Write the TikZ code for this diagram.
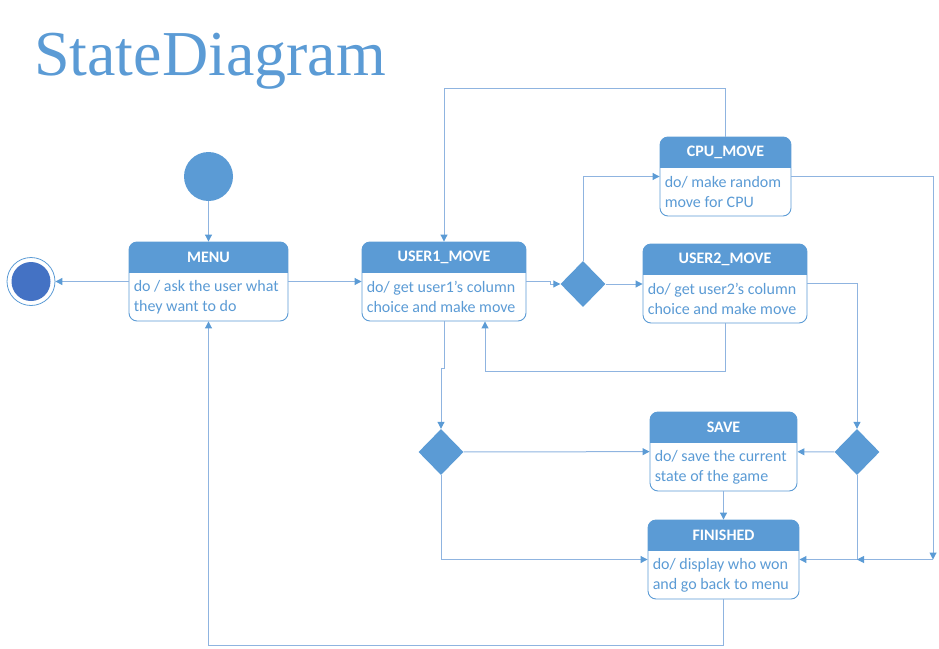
\documentclass[tikz,border=0pt]{standalone}
\usepackage{fontspec}
\setmainfont{Carlito}
\newfontfamily\titlefont{Liberation Serif}
\usetikzlibrary{shapes.geometric, arrows.meta}
\definecolor{headblue}{HTML}{5B9BD5}
\definecolor{lineblue}{HTML}{8FB4E0}
\definecolor{endblue}{HTML}{4472C4}
\newcommand{\statefont}{\fontsize{16pt}{20pt}\selectfont}
\tikzset{
	state/.style={shape=rectangle,draw=headblue,line width=0.9pt,fill=white,rounded corners=8pt,minimum height=79pt,inner sep=0pt,
		path picture={\fill[headblue,sharp corners] (path picture bounding box.north west) rectangle ([yshift=-31pt]path picture bounding box.north east);}},
	head/.style={text=white,font=\statefont\bfseries,inner sep=0pt},
	body/.style={text=headblue,font=\statefont,align=left,inner sep=5pt,anchor=west},
	choice/.style={shape=diamond,fill=headblue,minimum width=45pt,minimum height=46pt,inner sep=0pt},
	startdot/.style={shape=circle,fill=headblue,minimum size=49pt,inner sep=0pt},
	enddot/.style={shape=circle,draw=headblue,line width=0.8pt,fill=white,minimum size=48pt,inner sep=0pt},
	endcore/.style={shape=circle,fill=endblue,minimum size=39pt,inner sep=0pt},
}
\tikzstyle{arrow} = [draw=lineblue,line width=1pt,-{Triangle[length=7pt,width=7pt,color=headblue]}]

\begin{document}
\begin{tikzpicture}[x=1pt,y=-1pt]
	\useasboundingbox (0,0) rectangle (939,648);
	\node[anchor=base west,inner sep=0pt,text=headblue,font=\titlefont\fontsize{64pt}{70pt}\selectfont] (title) at (34,75) {StateDiagram};

	\node[startdot] (start) at (208.5,176.5) {};
	\node[enddot] (end) at (31,281.5) {};
	\node[endcore] (endin) at (31,281.5) {};

	\node[state,minimum width=159pt] (menu) at (208.5,281.5) {};
	\node[head] (menu-head) at ([yshift=-15.5pt]menu.north) {MENU};
	\node[body] (menu-body) at ([yshift=-15.5pt]menu.west) {do / ask the user what\\they want to do};

	\node[state,minimum width=164pt] (user1) at (444,281.5) {};
	\node[head] (user1-head) at ([yshift=-15.5pt]user1.north) {USER1\_MOVE};
	\node[body] (user1-body) at ([yshift=-15.5pt]user1.west) {do/ get user1's column\\choice and make move};

	\node[state,minimum width=131pt] (cpu) at (725.5,176.5) {};
	\node[head] (cpu-head) at ([yshift=-15.5pt]cpu.north) {CPU\_MOVE};
	\node[body] (cpu-body) at ([yshift=-15.5pt]cpu.west) {do/ make random\\move for CPU};

	\node[state,minimum width=164pt] (user2) at (725,283.5) {};
	\node[head] (user2-head) at ([yshift=-15.5pt]user2.north) {USER2\_MOVE};
	\node[body] (user2-body) at ([yshift=-15.5pt]user2.west) {do/ get user2's column\\choice and make move};

	\node[state,minimum width=147pt] (save) at (723.5,451.5) {};
	\node[head] (save-head) at ([yshift=-15.5pt]save.north) {SAVE};
	\node[body] (save-body) at ([yshift=-15.5pt]save.west) {do/ save the current\\state of the game};

	\node[state,minimum width=151pt] (finished) at (723.5,559.5) {};
	\node[head] (finished-head) at ([yshift=-15.5pt]finished.north) {FINISHED};
	\node[body] (finished-body) at ([yshift=-15.5pt]finished.west) {do/ display who won\\and go back to menu};

	\node[choice] (choice1) at (583,284) {};
	\node[choice] (choice2) at (441,452) {};
	\node[choice] (choice3) at (857,452) {};

	\coordinate (joint) at (933,559.5);
	\coordinate (merge) at (857,559.5);

	\draw[arrow] (start) -- (menu);
	\draw[arrow] (menu) -- (end);
	\draw[arrow] (menu) -- (user1);
	\draw[arrow] (user1.east) -- ++(24,0) |- (choice1);
	\draw[arrow] (choice1) -- (user2.west|-choice1);
	\draw[arrow] (choice1) |- (cpu);
	\draw[arrow] (cpu.north) -- ++(0,-48) -| (user1.north);
	\draw[arrow] (user2.south) -- ++(0,48) -| ([xshift=41pt]user1.south);
	\draw[arrow] (user1.south) -- ++(0,47) -| (choice2);
	\draw[arrow] (choice2) -- (save);
	\draw[arrow] (choice2) |- (finished);
	\draw[arrow] (save) -- (finished);
	\draw[arrow] (user2.east) -| (choice3);
	\draw[arrow] (choice3) -- (save);
	\draw[arrow] (choice3) |- (finished);
	\draw[arrow] (cpu) -| (joint);
	\draw[arrow] (joint) -- (merge);
	\draw[arrow] (finished.south) -- ++(0,46) -| (menu);
\end{tikzpicture}
\end{document}
